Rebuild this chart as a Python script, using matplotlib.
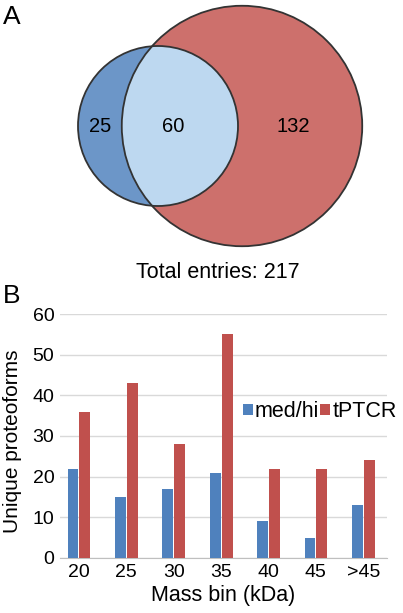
import numpy as np
import matplotlib.pyplot as plt
from matplotlib.patches import Circle

plt.rcParams['font.family'] = ['Liberation Sans', 'DejaVu Sans']

# Venn counts
only_med = 25
shared = 60
only_tptcr = 132
total = only_med + shared + only_tptcr

# Bar chart data
mass_bins = ['20', '25', '30', '35', '40', '45', '>45']
med_hi = [22, 15, 17, 21, 9, 5, 13]
tptcr = [36, 43, 28, 55, 22, 22, 24]

W, H = 403, 613
fig = plt.figure(figsize=(W / 100, H / 100), dpi=100)

# ---- Panel A: Venn (pixel coordinates) ----
ax1 = fig.add_axes([0, 0, 1, 1])
ax1.set_xlim(0, W)
ax1.set_ylim(H, 0)
ax1.axis('off')

k = 80 / np.sqrt(only_med + shared)
r_blue = k * np.sqrt(only_med + shared)
r_red = k * np.sqrt(shared + only_tptcr)
cy = 126
cx_blue = 158
cx_red = 242

red = Circle((cx_red, cy), r_red, facecolor='#cd706c', edgecolor='none')
blue = Circle((cx_blue, cy), r_blue, facecolor='#6c96c8', edgecolor='none')
inter = Circle((cx_blue, cy), r_blue, facecolor='#bdd8f0', edgecolor='none')
ax1.add_patch(red)
ax1.add_patch(blue)
ax1.add_patch(inter)
clip = Circle((cx_red, cy), r_red, transform=ax1.transData)
inter.set_clip_path(clip)
for (cx, r) in [(cx_red, r_red), (cx_blue, r_blue)]:
    ax1.add_patch(Circle((cx, cy), r, facecolor='none', edgecolor='#333333', lw=1.3))

bl, br = cx_blue - r_blue, cx_blue + r_blue
rl, rr = cx_red - r_red, cx_red + r_red
ax1.text((bl + rl) / 2, cy, str(only_med), ha='center', va='center', fontsize=14.5)
ax1.text((rl + br) / 2 - 7, cy, str(shared), ha='center', va='center', fontsize=14.5)
ax1.text((br + rr) / 2 - 7, cy, str(only_tptcr), ha='center', va='center', fontsize=14.5)
ax1.text(218, 272, f'Total entries: {total}', ha='center', va='center', fontsize=15.5)
ax1.text(3, 17, 'A', ha='left', va='center', fontsize=19)
ax1.text(3, 296, 'B', ha='left', va='center', fontsize=19)

# ---- Panel B: bars ----
left, right, top, bottom = 60, 387, 314, 558
ax2 = fig.add_axes([left / W, 1 - bottom / H, (right - left) / W, (bottom - top) / H])
x = np.arange(len(mass_bins))
w = 0.23
ax2.bar(x - w / 2 - 0.01, med_hi, w, color='#4f81bd', label='med/hi', zorder=3)
ax2.bar(x + w / 2 + 0.01, tptcr, w, color='#c0504d', label='tPTCR', zorder=3)
ax2.set_ylim(0, 60)
ax2.set_xlim(-0.4, 6.5)
ax2.set_yticks(range(0, 61, 10))
ax2.set_xticks(x)
ax2.set_xticklabels(mass_bins)
ax2.tick_params(length=0, labelsize=14, pad=4)
ax2.grid(axis='y', color='#d9d9d9', lw=1, zorder=0)
for s in ['top', 'right', 'left']:
    ax2.spines[s].set_visible(False)
ax2.spines['bottom'].set_color('#bfbfbf')
ax2.set_xlabel('Mass bin (kDa)', fontsize=15.5, labelpad=3)
ax2.set_ylabel('Unique proteoforms', fontsize=15)
ax2.yaxis.set_label_coords((22 - left) / (right - left), 0.48)
ax2.legend(loc='center left', bbox_to_anchor=((243 - left) / (right - left), 0.6),
           ncol=2, frameon=False, fontsize=15.5, handlelength=0.45, handleheight=0.45,
           handletextpad=0.1, columnspacing=0.05, borderpad=0, borderaxespad=0)

fig.savefig('out.png', dpi=100)
